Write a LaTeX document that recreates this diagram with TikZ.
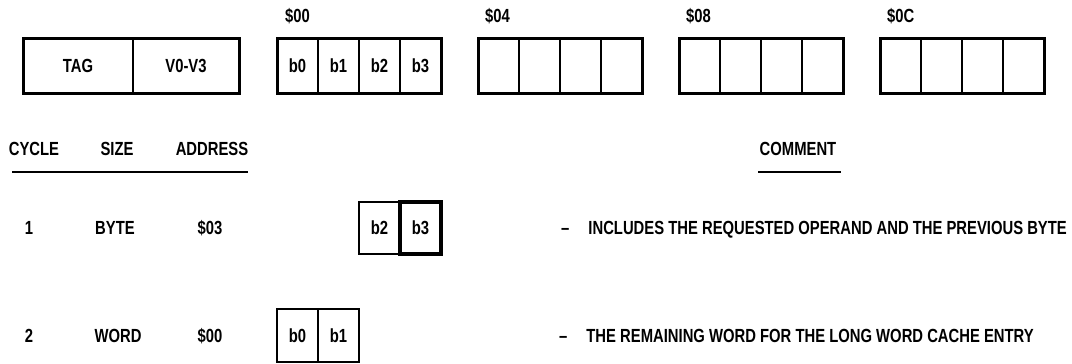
\documentclass[tikz,border=0pt]{standalone}
\usepackage{fontspec}
\setmainfont[FakeStretch=0.78]{Liberation Sans}
\usetikzlibrary{positioning}

\begin{document}
\begin{tikzpicture}[
    x=1pt, y=-1pt,
    every node/.style={font=\fontsize{19}{22}\selectfont\bfseries},
    cell/.style={draw, line width=1.8pt, minimum width=41pt, minimum height=55pt, inner sep=0pt, outer sep=0pt},
    frame/.style={draw, line width=3pt},
    txt/.style={inner sep=0pt, anchor=base},
    rule/.style={line width=1.6pt}
]
    \useasboundingbox (0,0) rectangle (1072,364);

    % cache entry
    \node[cell, minimum width=110pt] (tag) at (78,65.5) {TAG};
    \node[cell, minimum width=106pt, right=0pt of tag] (vreg) {V0-V3};
    \draw[frame] (tag.north west) rectangle (vreg.south east);

    \node[cell] (a0) at (297.5,65.5) {b0};
    \node[cell, right=0pt of a0] (a1) {b1};
    \node[cell, right=0pt of a1] (a2) {b2};
    \node[cell, right=0pt of a2] (a3) {b3};
    \draw[frame] (a0.north west) rectangle (a3.south east);

    \foreach \g/\x in {b/498.5, c/699.5, d/900.5} {
        \node[cell] (\g0) at (\x,65.5) {};
        \foreach \i [count=\j from 0] in {1,2,3}
            \node[cell, right=0pt of \g\j] (\g\i) {};
        \draw[frame] (\g0.north west) rectangle (\g3.south east);
    }

    \node[txt, anchor=base west] (adr00) at (285,22) {\$00};
    \node[txt, anchor=base west] (adr04) at (485,22) {\$04};
    \node[txt, anchor=base west] (adr08) at (686,22) {\$08};
    \node[txt, anchor=base west] (adr0C) at (887,22) {\$0C};

    % table head
    \node[txt] (hcyc) at (34,155) {CYCLE};
    \node[txt] (hsize) at (117,155) {SIZE};
    \node[txt] (haddr) at (212,155) {ADDRESS};
    \node[txt] (hcom) at (798,155) {COMMENT};
    \coordinate (u1) at (12,172);
    \coordinate (u2) at (248,172);
    \coordinate (u3) at (758,172);
    \coordinate (u4) at (841,172);
    \draw[rule] (u1) -- (u2);
    \draw[rule] (u3) -- (u4);

    % cycle 1
    \node[txt] (cyc1) at (29,234) {1};
    \node[txt] (size1) at (115,234) {BYTE};
    \node[txt] (adr1) at (210,234) {\$03};
    \node[cell, minimum height=52pt, line width=1.8pt] (r1b2) at (379.5,228) {b2};
    \node[cell, minimum height=52pt, line width=3.6pt, right=0pt of r1b2] (r1b3) {b3};
    \node[txt, anchor=base west] (com1) at (561,234) {--\quad INCLUDES THE REQUESTED OPERAND AND THE PREVIOUS BYTE};

    % cycle 2
    \node[txt] (cyc2) at (29,342) {2};
    \node[txt] (size2) at (118,342) {WORD};
    \node[txt] (adr2) at (210,342) {\$00};
    \node[cell, minimum height=53pt] (r2b0) at (297.5,335.5) {b0};
    \node[cell, minimum height=53pt, right=0pt of r2b0] (r2b1) {b1};
    \draw[line width=2.4pt] (r2b0.north west) rectangle (r2b1.south east);
    \node[txt, anchor=base west] (com2) at (559,342) {--\quad THE REMAINING WORD FOR THE LONG WORD CACHE ENTRY};
\end{tikzpicture}
\end{document}
